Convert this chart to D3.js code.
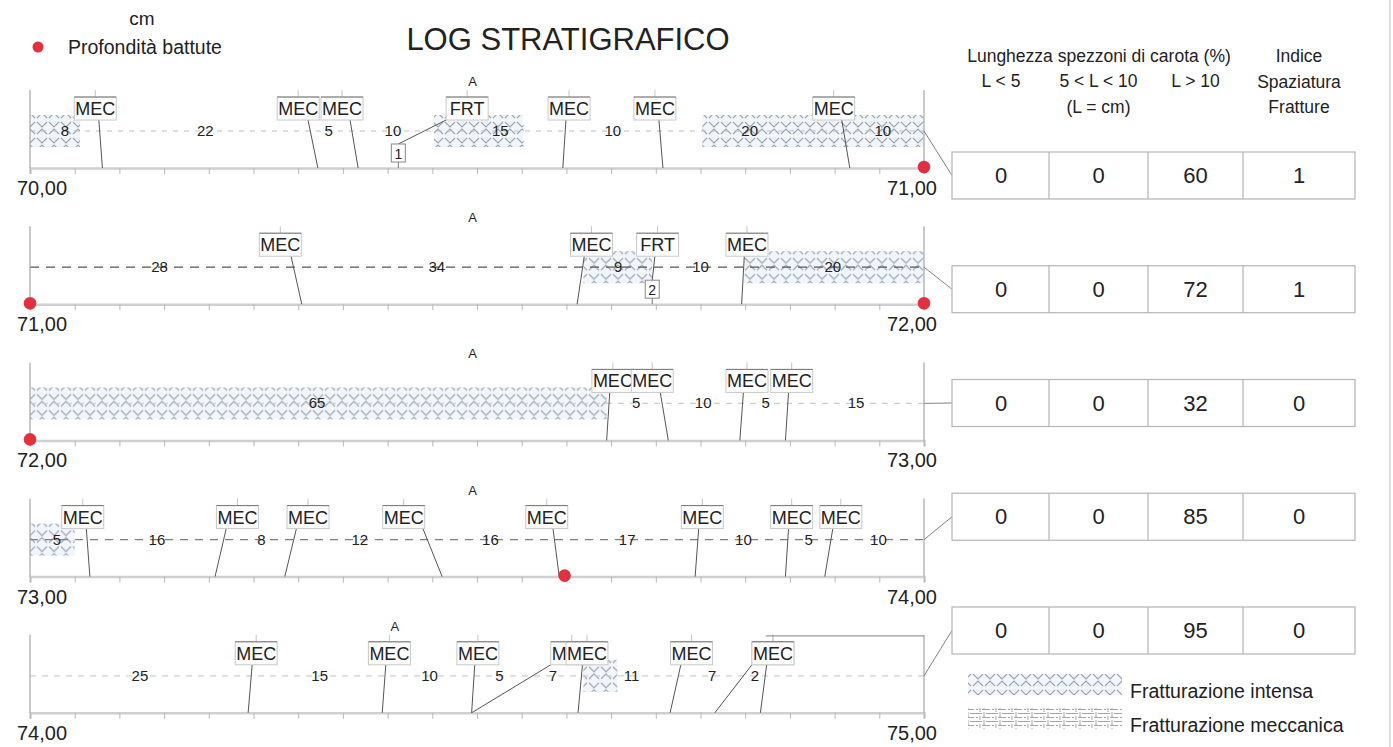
<!DOCTYPE html>
<html><head><meta charset="utf-8">
<script src="https://cdn.jsdelivr.net/npm/d3@7"></script>
<style>
body{margin:0;background:#fff}
svg{display:block;font-family:"Liberation Sans",Arial,sans-serif}
</style>
</head><body>
<svg id="c" width="1393" height="747"></svg>
<script>
// ---------------- DATA ----------------
const depthStarts = [70, 71, 72, 73, 74];
const depthLabels = ["70,00", "71,00", "72,00", "73,00", "74,00", "75,00"];

// fractures per row: lab = depth (cm) of label box, at = depth (cm) on core axis
const fracturesRow1 = [
  {type:"MEC", lab:7.3, at:8.1},
  {type:"MEC", lab:30.0, at:32.2},
  {type:"MEC", lab:34.9, at:36.7},
  {type:"FRT", lab:48.9, at:41.2, count:1},
  {type:"MEC", lab:60.3, at:59.6},
  {type:"MEC", lab:69.9, at:70.8},
  {type:"MEC", lab:89.9, at:91.7}
];
const fracturesRow2 = [
  {type:"MEC", lab:28.0, at:30.4},
  {type:"MEC", lab:62.8, at:61.2},
  {type:"FRT", lab:70.2, at:69.6, count:2},
  {type:"MEC", lab:80.2, at:79.6}
];
const fracturesRow3 = [
  {type:"MEC", lab:65.2, at:64.5},
  {type:"MEC", lab:69.6, at:71.4},
  {type:"MEC", lab:80.2, at:79.4},
  {type:"MEC", lab:85.2, at:84.5}
];
const fracturesRow4 = [
  {type:"MEC", lab:5.9, at:6.7},
  {type:"MEC", lab:23.2, at:20.7},
  {type:"MEC", lab:31.1, at:28.5},
  {type:"MEC", lab:41.8, at:46.1},
  {type:"MEC", lab:57.8, at:59.2},
  {type:"MEC", lab:75.2, at:74.4},
  {type:"MEC", lab:85.2, at:84.5},
  {type:"MEC", lab:90.7, at:88.9}
];
const fracturesRow5 = [
  {type:"MEC", lab:25.3, at:24.4},
  {type:"MEC", lab:40.2, at:39.4},
  {type:"MEC", lab:50.1, at:49.4},
  {type:"MEC", lab:60.6, at:49.4},
  {type:"MEC", lab:62.3, at:61.3},
  {type:"MEC", lab:74.0, at:71.6},
  {type:"MEC", lab:83.1, at:76.6},
  {type:"MEC", lab:83.1, at:81.7}
];
const fractures = [fracturesRow1, fracturesRow2, fracturesRow3, fracturesRow4, fracturesRow5];

// piece lengths (cm) written along the core
const piecesRow1 = [{d:3.9,v:8},{d:19.6,v:22},{d:33.4,v:5},{d:40.6,v:10},{d:52.6,v:15},{d:65.2,v:10},{d:80.5,v:20},{d:95.4,v:10}];
const piecesRow2 = [{d:14.5,v:28},{d:45.5,v:34},{d:65.8,v:9},{d:75.0,v:10},{d:89.8,v:20}];
const piecesRow3 = [{d:32.1,v:65},{d:67.8,v:5},{d:75.3,v:10},{d:82.3,v:5},{d:92.4,v:15}];
const piecesRow4 = [{d:3.0,v:5},{d:14.2,v:16},{d:25.9,v:8},{d:36.9,v:12},{d:51.5,v:16},{d:66.8,v:17},{d:79.8,v:10},{d:87.1,v:5},{d:94.9,v:10}];
const piecesRow5 = [{d:12.3,v:25},{d:32.4,v:15},{d:44.7,v:10},{d:52.5,v:5},{d:58.5,v:7},{d:67.3,v:11},{d:76.3,v:7},{d:81.1,v:2}];
const pieces = [piecesRow1, piecesRow2, piecesRow3, piecesRow4, piecesRow5];

// intense fracturing zones [from, to] cm
const intenseZones = [
  [[0,5.6],[45.2,55.2],[75.2,100]],
  [[61.9,69.6],[79.8,100]],
  [[0,64.5]],
  [[0,5]],
  [[61.9,65.7]]
];
const aMarks = [49.5, 49.5, 49.5, 49.5, 40.8];
const hammerPoints = [{row:0,d:100},{row:1,d:0},{row:1,d:100},{row:2,d:0},{row:3,d:59.8}];
const brackets = [{row:4, from:82.3, to:100}];

const tableHeader1 = "Lunghezza spezzoni di carota (%)";
const tableCols = ["L < 5", "5 < L < 10", "L > 10"];
const tableUnit = "(L = cm)";
const indexHeader = ["Indice", "Spaziatura", "Fratture"];
const tableValues = [[0,0,60,1],[0,0,72,1],[0,0,32,0],[0,0,85,0],[0,0,95,0]];
const legendItems = ["Fratturazione intensa", "Fratturazione meccanica"];

// ---------------- DRAW ----------------
const svg = d3.select("#c");
const x = d3.scaleLinear().domain([0,100]).range([30,924]);
const rowY = i => 168 + i*136.2;
const dashColors = ["#bdbdbd","#555","#cfcfcf","#7f7f7f","#cfcfcf"];
const dashArr = ["5,6","9,7","6,6","8,7","6,6"];

const defs = svg.append("defs");
const pat = defs.append("pattern").attr("id","intense").attr("patternUnits","userSpaceOnUse")
  .attr("width",12).attr("height",16);
pat.append("rect").attr("width",12).attr("height",16).attr("fill","#f2f5f9");
pat.append("path").attr("d","M1,2 L6,7 L11,2 M1,14 L6,9 L11,14")
  .attr("stroke","#9ca6b8").attr("stroke-width",1.2).attr("fill","none");
const pat2 = defs.append("pattern").attr("id","mech").attr("patternUnits","userSpaceOnUse")
  .attr("width",16).attr("height",8);
pat2.append("path").attr("d","M0,1.5 H6 M8,0 V5 M10,1.5 H16 M0,5.5 H2 M4,4 V8 M6,5.5 H14")
  .attr("stroke","#a5a5a5").attr("stroke-width",1).attr("fill","none");

// header
svg.append("text").attr("x",142).attr("y",25).attr("text-anchor","middle")
  .attr("font-size",19).attr("fill","#222").text("cm");
svg.append("circle").attr("cx",38).attr("cy",47).attr("r",5.5).attr("fill","#e0313f");
svg.append("text").attr("x",68).attr("y",54).attr("font-size",19.5).attr("fill","#222").text("Profondità battute");
svg.append("text").attr("x",568).attr("y",50).attr("text-anchor","middle")
  .attr("font-size",31).attr("fill","#222").text("LOG STRATIGRAFICO");

// far right border line
svg.append("line").attr("x1",1390).attr("x2",1390).attr("y1",0).attr("y2",747)
  .attr("stroke","#d6d6d6").attr("stroke-width",1.5);

depthStarts.forEach((ds, i) => {
  const g = svg.append("g").attr("transform",`translate(0,${rowY(i)})`);
  const dashY = -37;
  // hatch zones
  g.selectAll("rect.hz").data(intenseZones[i]).join("rect").attr("class","hz")
    .attr("x",d=>x(d[0])).attr("width",d=>x(d[1])-x(d[0]))
    .attr("y",dashY-16).attr("height",32).attr("fill","url(#intense)");
  // dashed core line
  g.append("line").attr("x1",x(0)).attr("x2",x(100)).attr("y1",dashY).attr("y2",dashY)
    .attr("stroke",dashColors[i]).attr("stroke-dasharray",dashArr[i]).attr("stroke-width",1.2);
  // axis
  const ax = g.append("g").call(d3.axisBottom(x).tickValues(d3.range(0,101,5)).tickSize(6).tickFormat(""));
  ax.select(".domain").attr("stroke","#d0d0d0").attr("stroke-width",2.5);
  ax.selectAll(".tick line").attr("stroke","#b8b8b8");
  // side borders
  [0,100].forEach(v => g.append("line").attr("x1",x(v)).attr("x2",x(v)).attr("y1",-78).attr("y2",0)
    .attr("stroke","#a5a5a5").attr("stroke-width",1.2));
  // A mark
  g.append("text").attr("x",x(aMarks[i])).attr("y",-82).attr("text-anchor","middle")
    .attr("font-size",13).attr("fill","#222").text("A");
  // piece lengths
  g.selectAll("text.pl").data(pieces[i]).join("text").attr("class","pl")
    .attr("x",d=>x(d.d)).attr("y",dashY+5).attr("text-anchor","middle")
    .attr("font-size",15).attr("fill","#222").text(d=>d.v);
  // fractures
  fractures[i].forEach(f => {
    const bx = x(f.lab), axp = x(f.at);
    const top = bx + Math.max(-21, Math.min(21, (axp-bx)*0.5));
    const endY = f.type === "FRT" ? -24 : 0;
    g.append("line").attr("x1",bx).attr("x2",bx).attr("y1",-78).attr("y2",-71).attr("stroke","#c4c4c4");
    g.append("line").attr("x1",top).attr("y1",-48).attr("x2",axp).attr("y2",endY)
      .attr("stroke","#555").attr("stroke-width",1);
    if (f.type === "FRT") {
      g.append("line").attr("x1",axp).attr("x2",axp).attr("y1",-6).attr("y2",0).attr("stroke","#777");
      g.append("rect").attr("x",axp-7).attr("y",-24).attr("width",14).attr("height",18)
        .attr("fill","#fff").attr("stroke","#888");
      g.append("text").attr("x",axp).attr("y",-9.5).attr("text-anchor","middle")
        .attr("font-size",14).attr("fill","#222").text(f.count);
    }
    g.append("rect").attr("x",bx-21).attr("y",-71).attr("width",42).attr("height",23)
      .attr("fill","#fff").attr("stroke","#c8c8c8");
    g.append("line").attr("x1",bx-21).attr("x2",bx+21).attr("y1",-71).attr("y2",-71).attr("stroke","#777");
    g.append("text").attr("x",bx).attr("y",-53).attr("text-anchor","middle")
      .attr("font-size",18).attr("fill","#222").text(f.type);
  });
  // depth labels
  g.append("text").attr("x",17).attr("y",27).attr("font-size",20).attr("fill","#222").text(depthLabels[i]);
  g.append("text").attr("x",937).attr("y",27).attr("text-anchor","end").attr("font-size",20).attr("fill","#222").text(depthLabels[i+1]);
  // connector to table
  const tTop = 152 + i*113.75;
  g.append("line").attr("x1",x(100)).attr("y1",dashY).attr("x2",952).attr("y2",tTop+23.5-rowY(i))
    .attr("stroke","#777").attr("stroke-width",0.9);
});

// brackets
brackets.forEach(b => {
  svg.append("line").attr("x1",x(b.from)).attr("x2",x(b.to)).attr("y1",rowY(b.row)-77).attr("y2",rowY(b.row)-77)
    .attr("stroke","#999").attr("stroke-width",1.2);
});
// hammer points
svg.selectAll("circle.hp").data(hammerPoints).join("circle").attr("class","hp")
  .attr("cx",d=>x(d.d)).attr("cy",d=>rowY(d.row)-1).attr("r",6.3).attr("fill","#e0313f");

// table header
const colCenters = [1001, 1098.5, 1195.5, 1299];
svg.append("text").attr("x",1099).attr("y",62).attr("text-anchor","middle").attr("font-size",17.5).attr("fill","#222").text(tableHeader1);
tableCols.forEach((t,j)=> svg.append("text").attr("x",colCenters[j]).attr("y",87).attr("text-anchor","middle").attr("font-size",17.5).attr("fill","#222").text(t));
svg.append("text").attr("x",colCenters[1]).attr("y",113).attr("text-anchor","middle").attr("font-size",17.5).attr("fill","#222").text(tableUnit);
indexHeader.forEach((t,j)=> svg.append("text").attr("x",colCenters[3]).attr("y",62+j*25.5).attr("text-anchor","middle").attr("font-size",17.5).attr("fill","#222").text(t));

// table rows
const colEdges = [952, 1049, 1148, 1243, 1355];
tableValues.forEach((row,i) => {
  const top = 152 + i*113.75;
  const tg = svg.append("g").attr("transform",`translate(0,${top})`);
  tg.append("rect").attr("x",colEdges[0]).attr("y",0).attr("width",colEdges[4]-colEdges[0]).attr("height",47)
    .attr("fill","#fff").attr("stroke","#b5b5b5").attr("stroke-width",1.2);
  colEdges.slice(1,4).forEach(e => tg.append("line").attr("x1",e).attr("x2",e).attr("y1",0).attr("y2",47)
    .attr("stroke","#b5b5b5").attr("stroke-width",1.2));
  row.forEach((v,j) => tg.append("text").attr("x",colCenters[j]).attr("y",31).attr("text-anchor","middle")
    .attr("font-size",22).attr("fill","#222").text(v));
});

// legend
const legFills = ["url(#intense)","url(#mech)"];
legendItems.forEach((t,j) => {
  const y0 = 674 + j*34;
  svg.append("rect").attr("x",968).attr("y",y0).attr("width",154).attr("height",21).attr("fill",legFills[j]);
  svg.append("text").attr("x",1130).attr("y",y0+24).attr("font-size",19.5).attr("fill","#222").text(t);
});
</script>
</body></html>
